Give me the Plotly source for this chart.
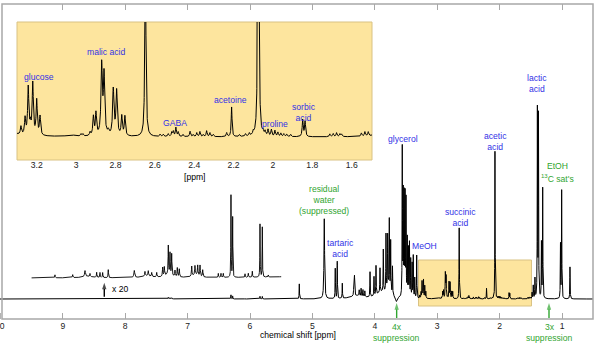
import numpy as np
import plotly.graph_objects as go

# ---------------- data: peak lists ----------------
# aromatic region (heights read on the "x 20" trace)
aro_ppm = [9.125, 8.841, 8.644, 8.564, 8.457, 8.404, 8.361, 8.271, 7.854, 7.683, 7.630,
           7.575, 7.495, 7.399, 7.373, 7.309, 7.282, 7.255, 7.202, 7.165, 7.133, 6.934,
           6.882, 6.838, 6.801, 6.758, 6.508, 6.465, 6.428, 6.305, 6.278, 6.080, 6.027,
           5.963, 5.840, 5.803, 5.707, 7.30, 6.87, 7.65, 8.60]
aro_h20 = [3, 3, 6, 3, 5, 5, 5, 8, 7, 4.5, 5,
           4, 4.5, 9, 9, 28, 21, 21, 6, 9, 8, 10,
           9, 10, 11, 7, 4, 4, 4, 82, 60, 3.5, 4,
           6, 53, 50, 2, 4, 3, 2, 1.5]
aro_w = [0.004, 0.005, 0.008, 0.004, 0.004, 0.004, 0.004, 0.004, 0.008, 0.005, 0.005,
         0.005, 0.005, 0.005, 0.005, 0.004, 0.004, 0.004, 0.005, 0.005, 0.005, 0.005,
         0.005, 0.005, 0.005, 0.005, 0.004, 0.004, 0.004, 0.003, 0.003, 0.004, 0.004,
         0.004, 0.003, 0.003, 0.004, 0.06, 0.06, 0.08, 0.1]

# 5.3 - 3.3 ppm region (main-spectrum units)
mid_ppm = [5.210, 4.810, 4.634, 4.602, 4.521, 4.336, 4.326, 4.25, 4.22, 4.19, 4.16,
           4.077, 4.013, 3.981, 3.917, 3.864, 3.821, 3.794, 3.768, 3.746, 3.717,
           3.560, 3.545, 3.530, 3.515, 3.500, 3.480, 3.462, 3.445, 3.425, 3.402,
           3.384, 3.360, 3.329, 3.655, 4.30, 3.90, 3.78]
mid_h = [15, 80, 30, 37, 15, 19, 19, 6, 8, 7, 6,
         25, 19, 29, 24, 42, 56, 52, 68, 50, 28,
         148, 102, 100, 100, 96, 58, 48, 54, 38, 34,
         42, 20, 43, -5, 3, 6, 10]
mid_w = [0.003, 0.006, 0.003, 0.003, 0.003, 0.003, 0.003, 0.004, 0.004, 0.004, 0.004,
         0.003, 0.003, 0.003, 0.003, 0.003, 0.003, 0.003, 0.003, 0.003, 0.003,
         0.003, 0.003, 0.003, 0.003, 0.003, 0.003, 0.003, 0.003, 0.003, 0.003,
         0.003, 0.003, 0.003, 0.015, 0.1, 0.1, 0.04]

# 3.3 - 1.5 ppm region (the enlarged inset), main-spectrum units
ins_ppm = [3.280, 3.259, 3.243, 3.232, 3.220, 3.200, 3.183, 3.025, 2.975, 2.965,
           2.929, 2.912, 2.899, 2.870, 2.858, 2.836, 2.811, 2.794, 2.768, 2.752,
           2.648, 2.573, 2.557, 2.532, 2.514, 2.506, 2.493, 2.481, 2.457,
           2.421, 2.405, 2.387, 2.371, 2.354, 2.337, 2.320, 2.303, 2.235, 2.210,
           2.170, 2.140, 2.120, 2.100, 2.075, 2.069,
           2.050, 2.040, 2.025, 2.008, 1.990, 1.975, 1.960, 1.945, 1.930, 1.910,
           1.849, 1.837, 1.711, 1.694, 1.677, 1.660, 1.651, 1.551, 1.533, 1.516]
ins_h = [3.0, 6.0, 17, 3.5, 18.5, 12.5, 6.8, 0.6, 0.8, 0.8,
         1.3, 6.8, 8.0, 25, 21.5, 1.5, 16.5, 16, 7.0, 7.0,
         71, 0.8, 0.8, 1.0, 1.5, 1.8, 3.2, 1.6, 0.8,
         1.9, 0.7, 1.4, 1.8, 0.7, 2.1, 1.4, 0.8, 1.4, 10.6,
         0.7, 0.9, 1.0, 1.2, 146, 16,
         1.2, 1.5, 2.3, 2.4, 2.1, 1.5, 1.2, 1.0, 0.9, 0.8,
         6.0, 5.4, 1.0, 1.1, 1.4, 1.0, 0.9, 1.2, 1.6, 1.5]
ins_w = [0.0035, 0.0035, 0.0035, 0.0035, 0.0035, 0.0035, 0.0035, 0.02, 0.003, 0.003,
         0.003, 0.0035, 0.0035, 0.004, 0.004, 0.004, 0.004, 0.004, 0.0035, 0.0035,
         0.003, 0.003, 0.003, 0.003, 0.003, 0.003, 0.003, 0.003, 0.003,
         0.003, 0.003, 0.003, 0.003, 0.003, 0.003, 0.003, 0.003, 0.003, 0.0025,
         0.003, 0.003, 0.003, 0.003, 0.0025, 0.002,
         0.003, 0.003, 0.003, 0.003, 0.003, 0.003, 0.003, 0.003, 0.003, 0.003,
         0.003, 0.003, 0.003, 0.003, 0.003, 0.003, 0.003, 0.003, 0.003, 0.003]

# upfield region (main-spectrum units)
up_ppm = [1.480, 1.461, 1.434, 1.395, 1.378, 1.330, 1.310, 1.025, 1.006, 0.873]
up_h = [6, 13, 20, 188, 182, 55, 110, 54, 108, 32]
up_w = [0.003] * 10

X20_FACTOR = 20
X20_OFFSET = 21
X20_RANGE = [9.5, 5.5]
INSET_RANGE = [3.30, 1.497]
MAIN_RANGE = [10.006, 0.504]

main_ticks = list(range(1, 10))
inset_ticks = [3.2, 3.0, 2.8, 2.6, 2.4, 2.2, 2.0, 1.8, 1.6]
inset_ticktext = ["3.2", "3", "2.8", "2.6", "2.4", "2.2", "2", "1.8", "1.6"]

# ---------------- build spectrum from the peak list ----------------
ppm_all = np.array(list(aro_ppm) + mid_ppm + ins_ppm + up_ppm)
h_all = np.array(list(np.array(aro_h20) / X20_FACTOR) + mid_h + ins_h + up_h)
w_all = np.array(aro_w + mid_w + ins_w + up_w)

grid = np.linspace(MAIN_RANGE[0], MAIN_RANGE[1], 19000)
x = np.unique(np.concatenate([grid, ppm_all]))[::-1]


def spectrum(xv):
    yv = np.zeros_like(xv)
    for c, h, w in zip(ppm_all, h_all, w_all):
        yv += h * w ** 2 / ((xv - c) ** 2 + w ** 2)
    return yv


y = spectrum(x)
m20 = (x <= X20_RANGE[0]) & (x >= X20_RANGE[1])
mins = (x <= INSET_RANGE[0]) & (x >= INSET_RANGE[1])

FONT = "Liberation Sans, Arial, sans-serif"
FS = 8.6
BLUE = "#3232e6"
GREEN = "#30a530"
YEL = "#fde59e"
YEL_LINE = "#d9c283"

fig = go.Figure()
fig.add_trace(go.Scatter(x=x, y=y, mode="lines", line=dict(color="black", width=1),
                         hoverinfo="skip", xaxis="x", yaxis="y"))
fig.add_trace(go.Scatter(x=x[m20], y=X20_OFFSET + X20_FACTOR * y[m20], mode="lines",
                         line=dict(color="black", width=0.9), hoverinfo="skip",
                         xaxis="x", yaxis="y"))
fig.add_trace(go.Scatter(x=x[mins], y=y[mins], mode="lines",
                         line=dict(color="black", width=1), hoverinfo="skip",
                         xaxis="x2", yaxis="y2"))

# arrows (tail -> head) drawn as short lines with an arrow marker at the head
arrows = [(8.335, 2.3, 16.3, "black"), (3.650, -19.0, -4.0, GREEN),
          (1.209, -19.0, -4.0, GREEN)]
for ax_, y0, y1, col in arrows:
    fig.add_trace(go.Scatter(x=[ax_, ax_], y=[y0, y1], mode="lines+markers",
                             line=dict(color=col, width=1.4),
                             marker=dict(symbol="arrow", angleref="previous",
                                         size=[0, 7], color=col,
                                         line=dict(width=0)),
                             hoverinfo="skip", xaxis="x", yaxis="y", cliponaxis=False))

PW = 593.0
ann = []


def lab(text, xx, yy, color, xref="x", yref="y"):
    ann.append(dict(text=text, x=xx, y=yy, xref=xref, yref=yref, showarrow=False,
                    xanchor="center", yanchor="middle",
                    font=dict(family=FONT, size=FS, color=color)))


# main labels
lab("glycerol", 3.544, 160.5, BLUE)
lab("acetic<br>acid", 2.063, 157.3, BLUE)
lab("lactic<br>acid", 1.397, 216, BLUE)
lab("EtOH", 1.070, 133.3, GREEN)
lab("<sup>13</sup>C sat's", 1.073, 121, GREEN)
lab("residual<br>water<br>(suppressed)", 4.807, 99.5, GREEN)
lab("tartaric<br>acid", 4.558, 50.3, BLUE)
lab("MeOH", 3.209, 53, BLUE)
lab("succinic<br>acid", 2.635, 82, BLUE)
lab("x 20", 8.091, 9.7, "black")
# inset labels
lab("glucose", 3.19, 21.5, BLUE, "x2", "y2")
lab("malic acid", 2.849, 30.25, BLUE, "x2", "y2")
lab("GABA", 2.499, 5.0, BLUE, "x2", "y2")
lab("acetoine", 2.214, 13.2, BLUE, "x2", "y2")
lab("proline", 1.990, 4.7, BLUE, "x2", "y2")
lab("sorbic<br>acid", 1.844, 8.9, BLUE, "x2", "y2")
lab("[ppm]", 194.5 / PW, (319 - 176.5) / 315, "black", "paper", "paper")
# leftmost tick label of the main axis (sits on the figure edge, partly cut off)
ann.append(dict(text="10", x=0.4 / PW, y=(319 - 326) / 315, xref="paper", yref="paper",
                showarrow=False, xanchor="center", yanchor="middle",
                font=dict(family=FONT, size=FS, color="#222")))
# axis title and suppression notes
lab("chemical shift [ppm]", 298 / PW, (319 - 335) / 315, "black", "paper", "paper")
for xs, t in ((3.650, "4x"), (1.200, "3x")):
    lab(t, xs, (319 - 326.7) / 315, GREEN, "x", "paper")
    lab("suppression", xs, (319 - 337.7) / 315, GREEN, "x", "paper")

shapes = [
    dict(type="rect", xref="x2 domain", yref="y2 domain", x0=0, x1=1, y0=0, y1=1,
         fillcolor=YEL, line=dict(color=YEL_LINE, width=1), layer="below"),
    dict(type="rect", xref="x", yref="y", x0=INSET_RANGE[0], x1=1.49, y0=-7, y1=39,
         fillcolor=YEL, line=dict(color=YEL_LINE, width=1), layer="below"),
    dict(type="rect", xref="paper", yref="paper", x0=2 / PW, x1=1, y0=0, y1=1,
         line=dict(color="#a8a8a8", width=1.5), layer="above"),
    dict(type="line", xref="x", yref="paper", x0=10, x1=10, y0=0, y1=6 / 315,
         line=dict(color="#a8a8a8", width=1)),
]

fig.update_layout(
    width=602, height=348,
    margin=dict(l=0, r=9, t=4, b=29),
    paper_bgcolor="white", plot_bgcolor="rgba(0,0,0,0)",
    showlegend=False,
    font=dict(family=FONT, size=FS, color="#222"),
    xaxis=dict(domain=[0, 1], range=MAIN_RANGE, tickmode="array",
               tickvals=main_ticks, ticktext=[str(t) for t in main_ticks],
               ticks="inside", ticklen=6, tickcolor="#a8a8a8", tickwidth=1,
               mirror="ticks", showline=False, showgrid=False, zeroline=False,
               automargin=False,
               tickfont=dict(family=FONT, size=FS, color="#222"), anchor="y"),
    yaxis=dict(domain=[0, 1], range=[-20, 295], visible=False, anchor="x"),
    xaxis2=dict(domain=[17 / PW, 372 / PW], range=INSET_RANGE, tickmode="array",
                tickvals=inset_ticks, ticktext=inset_ticktext, ticks="",
                ticklabelstandoff=-2, automargin=False,
                showline=False, showgrid=False, zeroline=False, anchor="y2",
                tickfont=dict(family=FONT, size=FS, color="#222")),
    yaxis2=dict(domain=[(319 - 160) / 315, (319 - 22) / 315], range=[-8.2, 41.1],
                visible=False, anchor="x2"),
    annotations=ann,
    shapes=shapes,
)

fig.write_html("out.html")
